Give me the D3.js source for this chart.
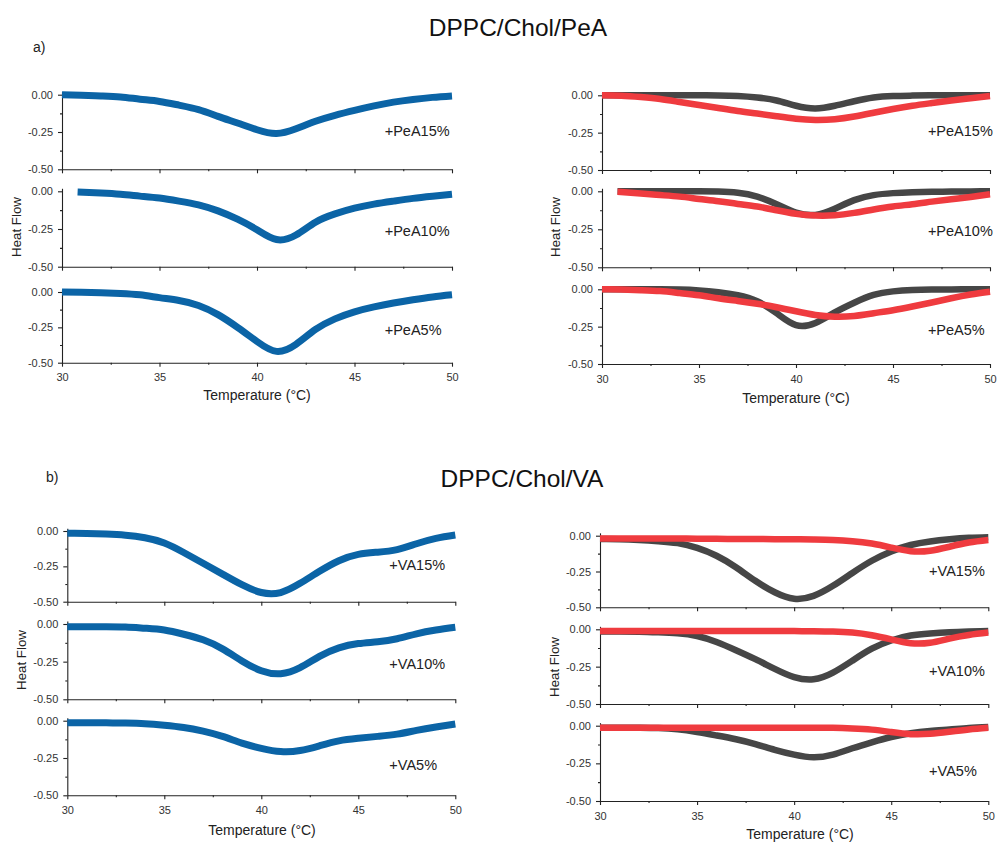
<!DOCTYPE html>
<html>
<head>
<meta charset="utf-8">
<script src="https://cdn.jsdelivr.net/npm/d3@7"></script>
<style>
  body { margin: 0; background: #fff; }
  svg { display: block; font-family: "Liberation Sans", Arial, sans-serif; }
  .axis path, .axis line { stroke: #222; stroke-width: 1.1; }
  .axis text { font-size: 11px; fill: #333; }
</style>
</head>
<body>
<div id="chart"></div>
<script>
// temperatures (°C) at which the curves were read
const temps = [30, 31, 32, 33, 34, 35, 36, 37, 38, 39, 40, 41, 42, 43, 44, 45, 46, 47, 48, 49, 50];
const tempsPeA10 = [30.8, 32, 33, 34, 35, 36, 37, 38, 39, 40, 41, 42, 43, 44, 45, 46, 47, 48, 49, 50];

// a) DPPC/Chol/PeA - measured curves
const pea15 = [0, -0.003, -0.008, -0.015, -0.03, -0.045, -0.07, -0.10, -0.145, -0.19, -0.235, -0.26, -0.228, -0.178, -0.138, -0.105, -0.075, -0.05, -0.032, -0.018, -0.008];
const pea10 = [-0.005, -0.012, -0.02, -0.032, -0.045, -0.065, -0.09, -0.13, -0.185, -0.255, -0.32, -0.29, -0.205, -0.15, -0.112, -0.085, -0.065, -0.047, -0.033, -0.02];
const pea5 = [0, -0.002, -0.005, -0.01, -0.02, -0.04, -0.06, -0.095, -0.16, -0.25, -0.35, -0.42, -0.37, -0.265, -0.19, -0.14, -0.105, -0.078, -0.055, -0.035, -0.02];
// a) deconvoluted components
const pea15Grey = [0, 0, 0, 0, 0, 0, -0.001, -0.005, -0.015, -0.035, -0.07, -0.088, -0.07, -0.04, -0.015, -0.005, -0.002, 0, 0, 0, 0];
const pea15Red = [0, -0.003, -0.012, -0.025, -0.045, -0.065, -0.085, -0.105, -0.122, -0.14, -0.157, -0.165, -0.16, -0.142, -0.117, -0.092, -0.07, -0.052, -0.035, -0.02, -0.005];
const pea10Grey = [0, 0, 0, 0, 0, -0.002, -0.01, -0.035, -0.085, -0.14, -0.155, -0.115, -0.058, -0.025, -0.012, -0.006, -0.003, -0.002, -0.001, 0];
const pea10Red = [-0.003, -0.015, -0.025, -0.035, -0.05, -0.065, -0.083, -0.10, -0.125, -0.148, -0.16, -0.158, -0.142, -0.12, -0.10, -0.085, -0.068, -0.052, -0.037, -0.02];
const pea5Grey = [0, 0, 0, 0, -0.002, -0.008, -0.02, -0.04, -0.08, -0.16, -0.24, -0.225, -0.155, -0.09, -0.038, -0.014, -0.005, -0.002, -0.001, 0, 0];
const pea5Red = [0, -0.002, -0.006, -0.012, -0.025, -0.04, -0.06, -0.078, -0.097, -0.12, -0.147, -0.172, -0.183, -0.178, -0.16, -0.14, -0.115, -0.088, -0.06, -0.035, -0.016];

// b) DPPC/Chol/VA - measured curves
const va15 = [-0.016, -0.018, -0.022, -0.03, -0.048, -0.085, -0.152, -0.228, -0.305, -0.38, -0.435, -0.435, -0.37, -0.285, -0.21, -0.165, -0.15, -0.132, -0.09, -0.052, -0.028];
const va10 = [-0.018, -0.018, -0.018, -0.02, -0.028, -0.04, -0.068, -0.105, -0.165, -0.245, -0.31, -0.33, -0.29, -0.215, -0.158, -0.13, -0.118, -0.098, -0.065, -0.04, -0.022];
const va5 = [-0.013, -0.013, -0.014, -0.016, -0.02, -0.03, -0.045, -0.07, -0.105, -0.15, -0.185, -0.207, -0.2, -0.168, -0.135, -0.118, -0.105, -0.09, -0.065, -0.042, -0.022];
// b) deconvoluted components
const va15Grey = [-0.023, -0.025, -0.03, -0.038, -0.052, -0.085, -0.14, -0.22, -0.315, -0.395, -0.44, -0.42, -0.35, -0.26, -0.175, -0.11, -0.065, -0.04, -0.025, -0.015, -0.011];
const va15Red = [-0.02, -0.02, -0.02, -0.02, -0.02, -0.021, -0.022, -0.023, -0.023, -0.024, -0.025, -0.027, -0.03, -0.038, -0.055, -0.083, -0.108, -0.105, -0.077, -0.048, -0.03];
const va10Grey = [-0.015, -0.015, -0.016, -0.02, -0.027, -0.045, -0.085, -0.14, -0.2, -0.265, -0.32, -0.335, -0.29, -0.21, -0.13, -0.075, -0.042, -0.028, -0.02, -0.015, -0.011];
const va10Red = [-0.012, -0.012, -0.012, -0.012, -0.012, -0.012, -0.012, -0.012, -0.012, -0.012, -0.012, -0.013, -0.015, -0.022, -0.04, -0.068, -0.093, -0.09, -0.062, -0.038, -0.022];
const va5Grey = [-0.013, -0.013, -0.014, -0.016, -0.024, -0.042, -0.065, -0.09, -0.122, -0.16, -0.192, -0.21, -0.192, -0.15, -0.11, -0.075, -0.05, -0.035, -0.025, -0.015, -0.008];
const va5Red = [-0.013, -0.013, -0.013, -0.013, -0.013, -0.013, -0.013, -0.013, -0.013, -0.013, -0.013, -0.013, -0.014, -0.018, -0.026, -0.042, -0.056, -0.054, -0.04, -0.025, -0.014];

const xTicks = [30, 35, 40, 45, 50];
const xMinor = [32.5, 37.5, 42.5, 47.5];
const yTicks = [0, -0.25, -0.5];
const yMinor = [-0.125, -0.375];

const BLUE = "#0b64a6", GREY = "#464646", RED = "#ef3b3f";

const width = 997, height = 844;
const svg = d3.select("#chart").append("svg").attr("width", width).attr("height", height);
svg.append("rect").attr("width", width).attr("height", height).attr("fill", "#fff");

// layout of the four groups of stacked panels
const groups = [
  { xr: [62, 452], panels: [[94.7, 169.3], [191.3, 266.7], [292, 362.7]], hf: [17, 227], tt: [257, 400], lx: 46.55,
    panelData: [
      { label: "+PeA15%", ly: -0.245, series: [[temps, pea15, BLUE]] },
      { label: "+PeA10%", ly: -0.262, series: [[tempsPeA10, pea10, BLUE]] },
      { label: "+PeA5%", ly: -0.27, series: [[temps, pea5, BLUE]] }] },
  { xr: [602, 990], panels: [[95.3, 170], [191.3, 267.3], [289.3, 364]], hf: [556, 227], tt: [796, 403], lx: 46.8,
    panelData: [
      { label: "+PeA15%", ly: -0.24, series: [[temps, pea15Grey, GREY], [temps, pea15Red, RED]] },
      { label: "+PeA10%", ly: -0.26, series: [[tempsPeA10, pea10Grey, GREY], [tempsPeA10, pea10Red, RED]] },
      { label: "+PeA5%", ly: -0.27, series: [[temps, pea5Grey, GREY], [temps, pea5Red, RED]] }] },
  { xr: [67.3, 455.3], panels: [[531, 601.7], [624, 699.3], [720.7, 795.3]], hf: [22, 660], tt: [262, 835], lx: 46.6,
    panelData: [
      { label: "+VA15%", ly: -0.24, series: [[temps, va15, BLUE]] },
      { label: "+VA10%", ly: -0.266, series: [[temps, va10, BLUE]] },
      { label: "+VA5%", ly: -0.296, series: [[temps, va5, BLUE]] }] },
  { xr: [600, 988.3], panels: [[535.7, 607.3], [629.3, 704], [725.7, 801]], hf: [555, 667], tt: [800, 839], lx: 46.95,
    panelData: [
      { label: "+VA15%", ly: -0.244, series: [[temps, va15Grey, GREY], [temps, va15Red, RED]] },
      { label: "+VA10%", ly: -0.277, series: [[temps, va10Grey, GREY], [temps, va10Red, RED]] },
      { label: "+VA5%", ly: -0.299, series: [[temps, va5Grey, GREY], [temps, va5Red, RED]] }] }
];

const fmt = d => d.toFixed(2);

groups.forEach(g => {
  const x = d3.scaleLinear().domain([30, 50]).range(g.xr);
  g.panels.forEach((p, i) => {
    const pd = g.panelData[i];
    const k = (p[1] - p[0]) / 0.5;
    const y = d3.scaleLinear().domain([-0.5, 0.02]).range([p[1], p[0] - 0.02 * k]);
    const last = i === g.panels.length - 1;

    // y axis
    svg.append("g").attr("class", "axis").attr("transform", `translate(${g.xr[0]},0)`)
      .call(d3.axisLeft(y).tickValues(yTicks).tickFormat(fmt).tickSize(4).tickPadding(5).tickSizeOuter(0));
    svg.append("g").attr("class", "axis").attr("transform", `translate(${g.xr[0]},0)`)
      .call(d3.axisLeft(y).tickValues(yMinor).tickFormat("").tickSize(2).tickSizeOuter(0))
      .select(".domain").remove();

    // x axis
    svg.append("g").attr("class", "axis").attr("transform", `translate(0,${p[1]})`)
      .call(d3.axisBottom(x).tickValues(xTicks).tickFormat(last ? d3.format("d") : "").tickSize(4).tickPadding(7).tickSizeOuter(0));
    svg.append("g").attr("class", "axis").attr("transform", `translate(0,${p[1]})`)
      .call(d3.axisBottom(x).tickValues(xMinor).tickFormat("").tickSize(2).tickSizeOuter(0))
      .select(".domain").remove();

    // curves
    pd.series.forEach(([tx, vals, col]) => {
      const line = d3.line().x(d => x(d[0])).y(d => y(d[1])).curve(d3.curveNatural);
      svg.append("path").datum(d3.zip(tx, vals))
        .attr("d", line).attr("fill", "none").attr("stroke", col)
        .attr("stroke-width", col === BLUE ? 7 : 6.5).attr("stroke-linejoin", "round");
    });

    svg.append("text").attr("x", x(g.lx)).attr("y", y(pd.ly) + 5)
      .attr("font-size", 14.5).attr("fill", "#222").text(pd.label);
  });

  svg.append("text").attr("transform", `translate(${g.hf[0] + 4},${g.hf[1]}) rotate(-90)`)
    .attr("text-anchor", "middle").attr("font-size", 13.3).attr("fill", "#222").text("Heat Flow");
  svg.append("text").attr("x", g.tt[0]).attr("y", g.tt[1])
    .attr("text-anchor", "middle").attr("font-size", 14).attr("fill", "#222").text("Temperature (°C)");
});

// titles
svg.append("text").attr("x", 518).attr("y", 36).attr("text-anchor", "middle")
  .attr("font-size", 24.5).attr("fill", "#111").text("DPPC/Chol/PeA");
svg.append("text").attr("x", 522).attr("y", 487).attr("text-anchor", "middle")
  .attr("font-size", 24.5).attr("fill", "#111").text("DPPC/Chol/VA");
svg.append("text").attr("x", 33).attr("y", 52).attr("font-size", 14).attr("fill", "#222").text("a)");
svg.append("text").attr("x", 46).attr("y", 482).attr("font-size", 14).attr("fill", "#222").text("b)");
</script>
</body>
</html>
